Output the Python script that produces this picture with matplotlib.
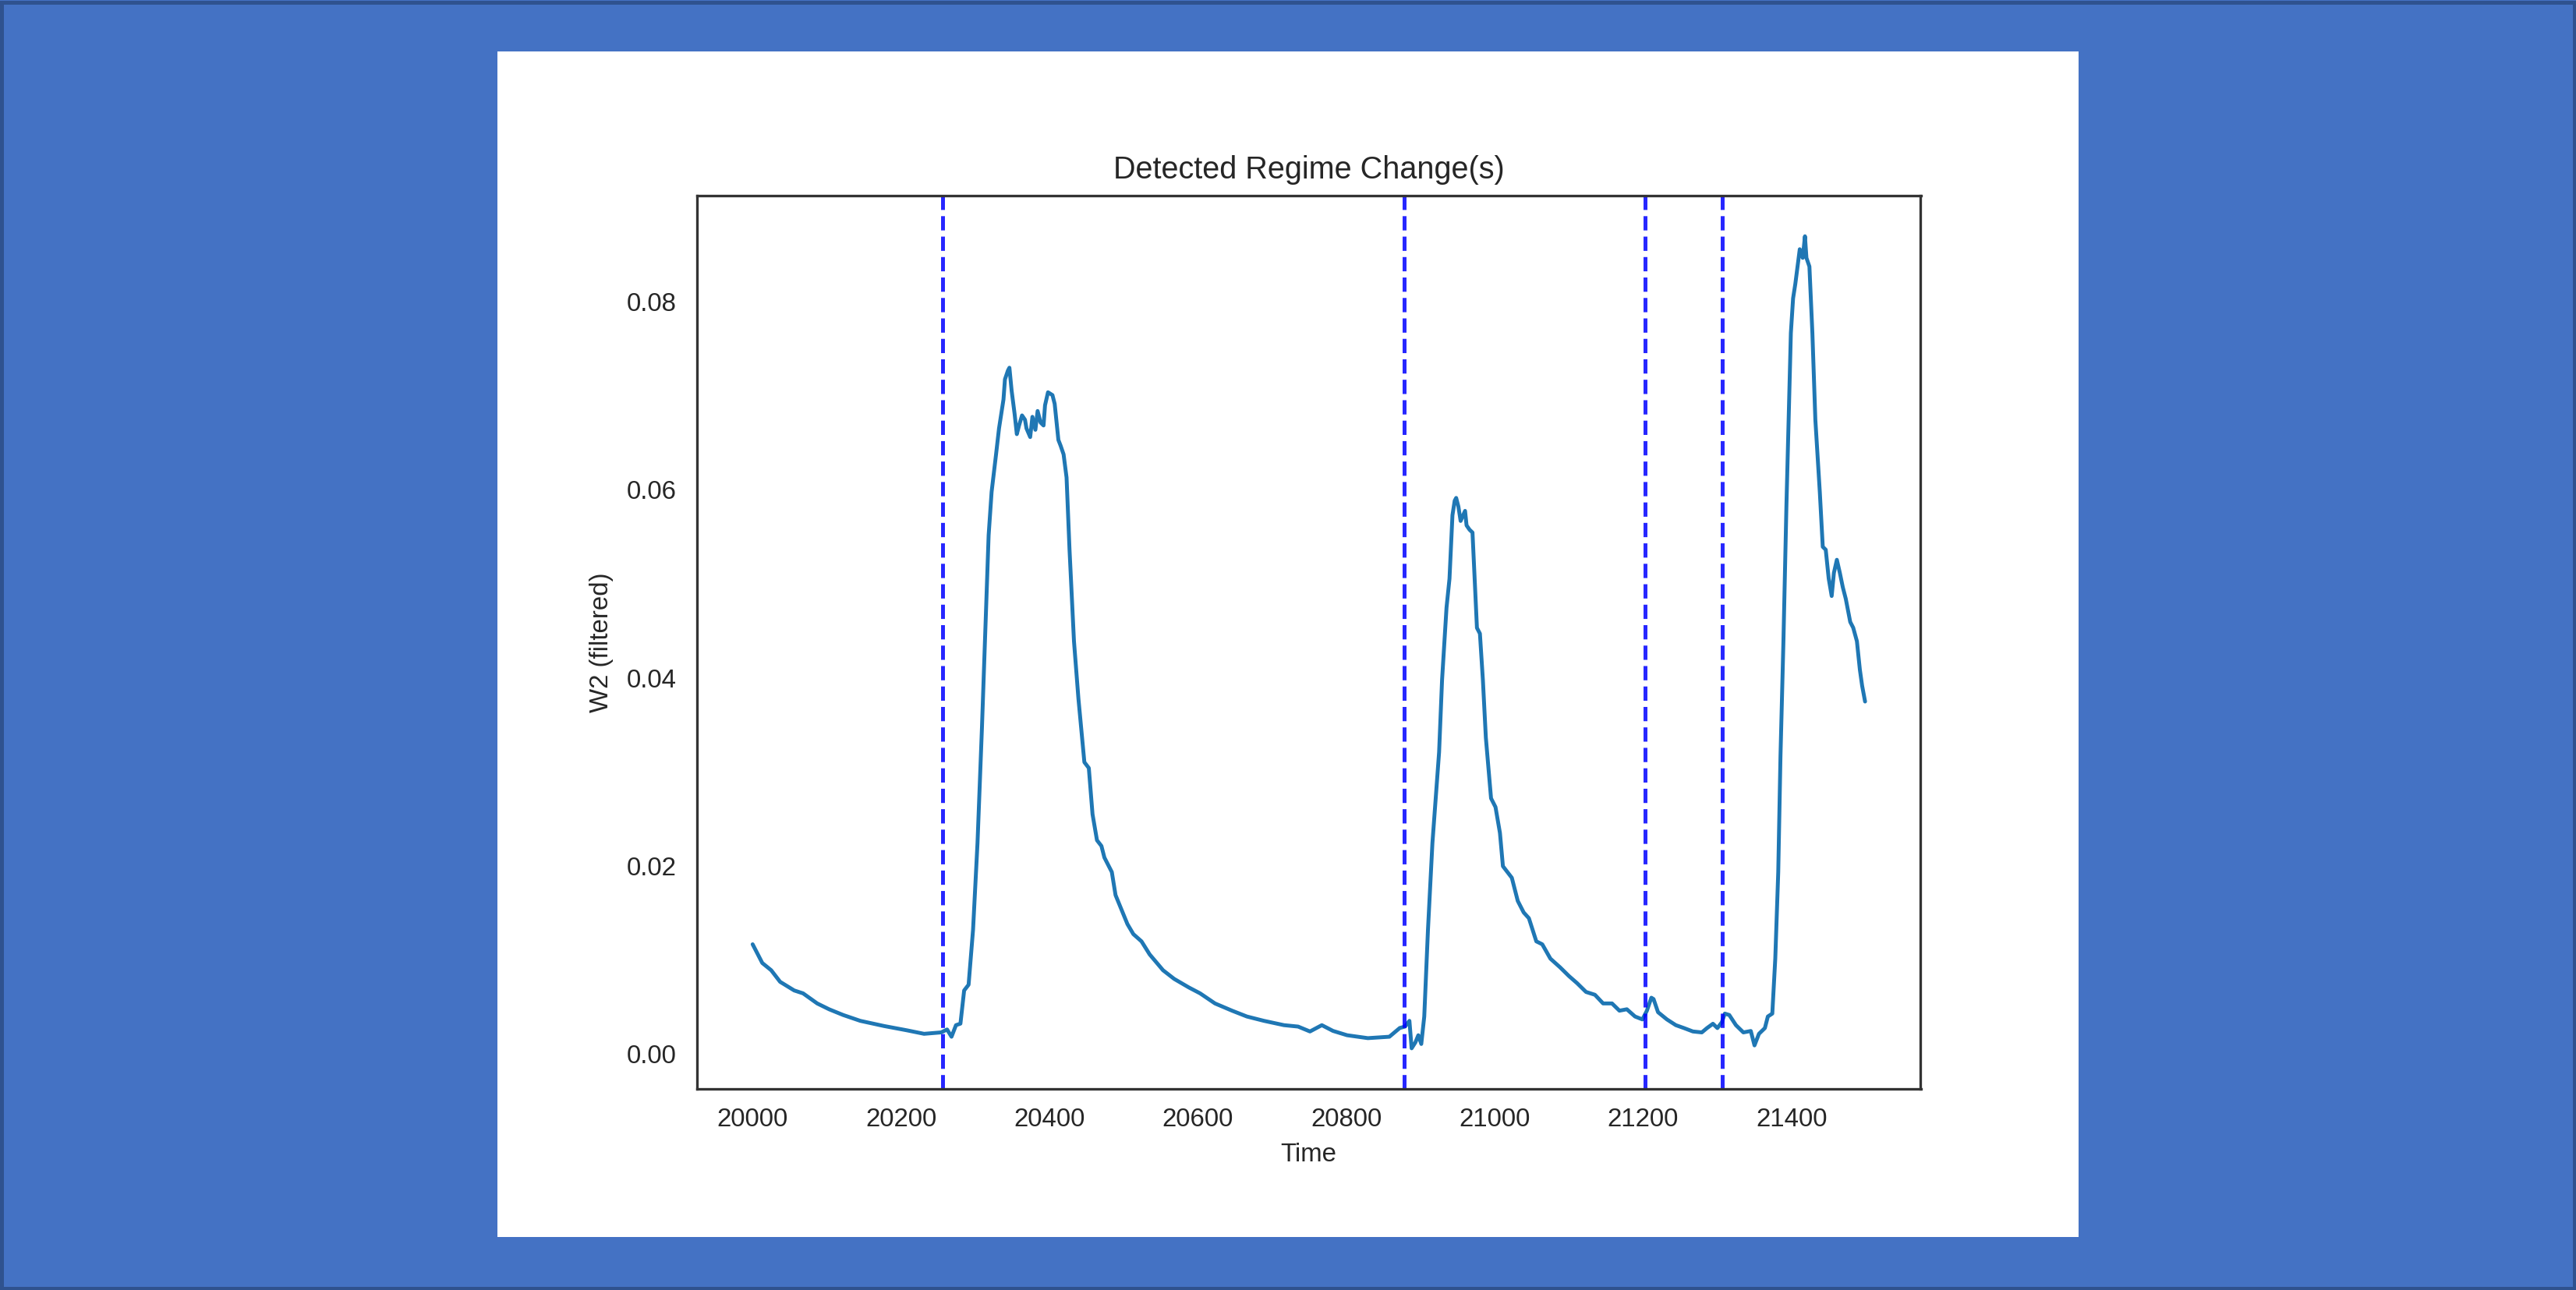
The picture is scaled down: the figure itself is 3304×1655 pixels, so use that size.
import matplotlib
matplotlib.use('Agg')
import matplotlib.pyplot as plt
import seaborn as sns
from matplotlib.patches import Rectangle

# Values
time = [20000, 20013, 20025, 20037, 20056, 20068, 20087, 20103, 20122, 20145,
        20177, 20208, 20231, 20254, 20262, 20268, 20274, 20280, 20285, 20291,
        20297, 20303, 20309, 20313, 20318, 20322, 20328, 20332, 20338, 20340,
        20344, 20346, 20349, 20353, 20356, 20359, 20363, 20367, 20369, 20374,
        20377, 20381, 20384, 20388, 20392, 20394, 20398, 20404, 20407, 20412,
        20415, 20419, 20423, 20427, 20433, 20439, 20447, 20453, 20458, 20464,
        20470, 20474, 20484, 20489, 20497, 20505, 20513, 20524, 20535, 20553,
        20568, 20588, 20603, 20623, 20646, 20666, 20689, 20716, 20735, 20751,
        20767, 20782, 20801, 20829, 20858, 20872, 20879, 20885, 20888, 20893,
        20897, 20901, 20905, 20910, 20916, 20925, 20929, 20935, 20939, 20943,
        20946, 20948, 20951, 20954, 20960, 20962, 20966, 20970, 20972, 20976,
        20980, 20984, 20988, 20995, 21001, 21007, 21011, 21023, 21031, 21039,
        21046, 21056, 21064, 21075, 21088, 21100, 21111, 21123, 21135, 21146,
        21158, 21168, 21178, 21189, 21199, 21205, 21211, 21214, 21220, 21232,
        21244, 21255, 21267, 21279, 21286, 21294, 21300, 21306, 21310, 21316,
        21325, 21335, 21345, 21350, 21356, 21364, 21368, 21374, 21378, 21382,
        21385, 21389, 21393, 21397, 21399, 21402, 21405, 21409, 21411, 21415,
        21418, 21420, 21424, 21428, 21432, 21438, 21442, 21446, 21450, 21454,
        21457, 21461, 21465, 21469, 21473, 21479, 21483, 21488, 21492, 21495,
        21499]
w2 = [0.01168, 0.00969, 0.00892, 0.00769, 0.00677, 0.00646, 0.00539, 0.00477, 0.00416, 0.00354,
      0.00299, 0.00253, 0.00216, 0.00231, 0.00262, 0.00185, 0.00308, 0.00324, 0.00677, 0.00738,
      0.01322, 0.02244, 0.03472, 0.04390, 0.05517, 0.05977, 0.06377, 0.06653, 0.06960, 0.07175,
      0.07268, 0.07298, 0.07053, 0.06807, 0.06592, 0.06684, 0.06791, 0.06745, 0.06653, 0.06561,
      0.06776, 0.06638, 0.06838, 0.06715, 0.06684, 0.06899, 0.07037, 0.07007, 0.06914, 0.06530,
      0.06469, 0.06377, 0.06131, 0.05363, 0.04390, 0.03780, 0.03104, 0.03042, 0.02551, 0.02274,
      0.02213, 0.02090, 0.01936, 0.01691, 0.01537, 0.01383, 0.01276, 0.01199, 0.01060, 0.00892,
      0.00800, 0.00708, 0.00646, 0.00539, 0.00462, 0.00400, 0.00354, 0.00308, 0.00293, 0.00241,
      0.00308, 0.00247, 0.00201, 0.00170, 0.00185, 0.00278, 0.00293, 0.00354, 0.00062, 0.00124,
      0.00201, 0.00108, 0.00400, 0.01322, 0.02244, 0.03211, 0.03979, 0.04747, 0.05054, 0.05730,
      0.05884, 0.05914, 0.05822, 0.05669, 0.05776, 0.05622, 0.05576, 0.05546, 0.05208, 0.04532,
      0.04471, 0.03979, 0.03365, 0.02720, 0.02627, 0.02351, 0.01998, 0.01875, 0.01629, 0.01506,
      0.01445, 0.01199, 0.01168, 0.01015, 0.00923, 0.00830, 0.00754, 0.00661, 0.00631, 0.00539,
      0.00539, 0.00462, 0.00477, 0.00400, 0.00369, 0.00462, 0.00600, 0.00585, 0.00446, 0.00369,
      0.00308, 0.00277, 0.00241, 0.00231, 0.00277, 0.00323, 0.00277, 0.00339, 0.00431, 0.00416,
      0.00308, 0.00231, 0.00246, 0.00093, 0.00216, 0.00277, 0.00400, 0.00431, 0.01015, 0.01936,
      0.03165, 0.04394, 0.05824, 0.07053, 0.07667, 0.08036, 0.08189, 0.08435, 0.08558, 0.08466,
      0.08696, 0.08466, 0.08374, 0.07667, 0.06745, 0.05977, 0.05394, 0.05363, 0.05056, 0.04871,
      0.05117, 0.05256, 0.05117, 0.04964, 0.04841, 0.04595, 0.04534, 0.04390, 0.04087, 0.03918,
      0.03749]
regime_changes = [20256, 20878, 21203, 21307]

sns.set_style('white')
plt.rcParams['font.family'] = ['Liberation Sans', 'DejaVu Sans']

S = 2.376  # original 10 pt text -> this canvas

W, H = 3305, 1655
fig = plt.figure(figsize=(W / 100, H / 100), dpi=100, facecolor='#4472C4')

# white sheet the chart sits on, and the dark outer frame
fig.add_artist(Rectangle((638 / W, 1 - 1587 / H), (2666 - 638) / W, (1587 - 66) / H,
                         transform=fig.transFigure, facecolor='white',
                         edgecolor='none', zorder=-1))
fig.add_artist(Rectangle((2.5 / W, 2.5 / H), 1 - 5 / W, 1 - 5 / H,
                         transform=fig.transFigure, fill=False,
                         edgecolor='#2F528F', linewidth=3.6, zorder=-1))

ax = fig.add_axes([894 / W, 1 - 1397 / H, (2463.5 - 894) / W, (1397 - 251) / H])
ax.plot(time, w2, color='#1f77b4', linewidth=1.5 * S)
for t in regime_changes:
    ax.axvline(t, color='blue', linestyle='--', linewidth=1.5 * S, alpha=0.85)

ax.set_title('Detected Regime Change(s)', fontsize=12 * S, pad=15.5, color='.15')
ax.set_xlabel('Time', fontsize=10 * S, labelpad=9.5, color='.15')
ax.set_ylabel('W2 (filtered)', fontsize=10 * S, labelpad=12, color='.15')
ax.tick_params(labelsize=10 * S, length=0, colors='.15')
ax.tick_params(axis='x', pad=17.5)
ax.tick_params(axis='y', pad=19)
for sp in ax.spines.values():
    sp.set_linewidth(1.0 * S)
    sp.set_edgecolor('.2')

fig.savefig('out.png', dpi=100, facecolor=fig.get_facecolor())
plt.close()
